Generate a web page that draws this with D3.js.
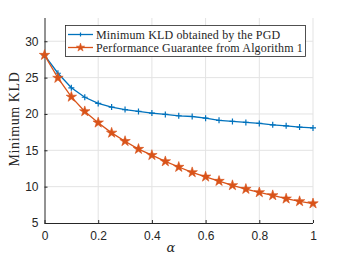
<!DOCTYPE html>
<html>
<head>
<meta charset="utf-8">
<script src="https://cdn.jsdelivr.net/npm/d3@7"></script>
<style>
body{margin:0;background:#fff;}
svg text{fill:#262626;}
</style>
</head>
<body>
<svg id="chart" width="346" height="260"></svg>
<script>
// alpha values and the two series
var alphas = [0,0.05,0.1,0.15,0.2,0.25,0.3,0.35,0.4,0.45,0.5,0.55,0.6,0.65,0.7,0.75,0.8,0.85,0.9,0.95,1]
var pgdKLD = [28.1,25.6,23.6,22.3,21.45,20.95,20.6,20.35,20.12,19.93,19.75,19.65,19.42,19.12,18.97,18.83,18.7,18.5,18.37,18.2,18.08]
var guarantee = [28.1,24.95,22.35,20.35,18.8,17.4,16.25,15.17,14.33,13.47,12.7,11.96,11.36,10.77,10.18,9.67,9.21,8.8,8.34,7.98,7.68]
var xTicks = [0,0.2,0.4,0.6,0.8,1]
var yTicks = [5,10,15,20,25,30]
var legendLabels = ['Minimum KLD obtained by the PGD','Performance Guarantee from Algorithm 1']
var colors = ['#0072BD','#D95319']

var svg = d3.select('#chart')
var x = d3.scaleLinear().domain([0,1]).range([44.5,313])
var y = d3.scaleLinear().domain([5,33.2]).range([223,18])

// grid
var g = svg.append('g')
g.selectAll('.gx').data(xTicks.slice(1)).enter().append('line')
  .attr('x1',d=>x(d)).attr('x2',d=>x(d)).attr('y1',y(5)).attr('y2',y(33.2))
  .attr('stroke','#e3e3e3').attr('stroke-width',1)
g.selectAll('.gy').data(yTicks.slice(1)).enter().append('line')
  .attr('x1',x(0)).attr('x2',x(1)).attr('y1',d=>y(d)).attr('y2',d=>y(d))
  .attr('stroke','#e3e3e3').attr('stroke-width',1)

// axes
var xa = svg.append('g').attr('transform','translate(0,'+y(5)+')')
  .call(d3.axisBottom(x).tickValues(xTicks).tickSize(-3).tickPadding(8).tickFormat(d3.format('')))
var ya = svg.append('g').attr('transform','translate('+x(0)+',0)')
  .call(d3.axisLeft(y).tickValues(yTicks).tickSize(-3).tickPadding(6))
;[xa,ya].forEach(function(a){
  a.select('.domain').attr('stroke','#262626').attr('stroke-width',1)
  a.selectAll('.tick line').attr('stroke','#262626')
  a.selectAll('text').attr('font-family','Liberation Sans, Arial, sans-serif').attr('font-size','12px').attr('fill','#262626')
})
ya.select('.domain').attr('d','M0.5,'+y(33.2)+'V'+y(5))
xa.select('.domain').attr('d','M'+x(0)+',0.5H'+x(1))

// labels
svg.append('text').attr('x',171).attr('y',252).attr('text-anchor','middle')
  .attr('font-family','DejaVu Serif, serif').attr('font-style','italic').attr('font-size','13px').text('α')
svg.append('text').attr('transform','translate(19,119) rotate(-90)').attr('text-anchor','middle')
  .attr('font-family','Liberation Serif, Times New Roman, serif').attr('font-size','14px')
  .attr('letter-spacing','0.6px').text('Minimum KLD')

var line = d3.line().x((d,i)=>x(alphas[i])).y(d=>y(d))
var star = d3.symbol().type(d3.symbolStar).size(34)
var smallStar = d3.symbol().type(d3.symbolStar).size(22)

svg.append('path').datum(pgdKLD).attr('d',line).attr('fill','none').attr('stroke',colors[0]).attr('stroke-width',1.3)
svg.selectAll('.plus').data(pgdKLD).enter().append('path')
  .attr('d',(d,i)=>'M'+(x(alphas[i])-3)+','+y(d)+'h6M'+x(alphas[i])+','+(y(d)-3)+'v6')
  .attr('stroke',colors[0]).attr('stroke-width',1.2)

svg.append('path').datum(guarantee).attr('d',line).attr('fill','none').attr('stroke',colors[1]).attr('stroke-width',1.3)
svg.selectAll('.star').data(guarantee).enter().append('path')
  .attr('transform',(d,i)=>'translate('+x(alphas[i])+','+y(d)+')')
  .attr('d',star).attr('fill',colors[1]).attr('stroke',colors[1]).attr('stroke-width',0.6)

// legend
var lg = svg.append('g')
lg.append('rect').attr('x',65.5).attr('y',25.5).attr('width',240).attr('height',31)
  .attr('fill','#fff').attr('stroke','#262626').attr('stroke-width',0.8)
legendLabels.forEach(function(t,i){
  var ly = 34.5 + i*13
  lg.append('line').attr('x1',68).attr('x2',93).attr('y1',ly).attr('y2',ly).attr('stroke',colors[i]).attr('stroke-width',1.3)
  if(i==0){
    lg.append('path').attr('d','M78.5,'+ly+'h4M80.5,'+(ly-2)+'v4').attr('stroke',colors[0]).attr('stroke-width',1.2)
  }else{
    lg.append('path').attr('transform','translate(80.5,'+ly+')').attr('d',smallStar).attr('fill',colors[1]).attr('stroke',colors[1]).attr('stroke-width',0.5)
  }
  lg.append('text').attr('x',96).attr('y',ly+4).attr('font-family','Liberation Serif, Times New Roman, serif')
    .attr('font-size','12px').attr('letter-spacing','0.15px').text(t)
})
</script>
</body>
</html>
